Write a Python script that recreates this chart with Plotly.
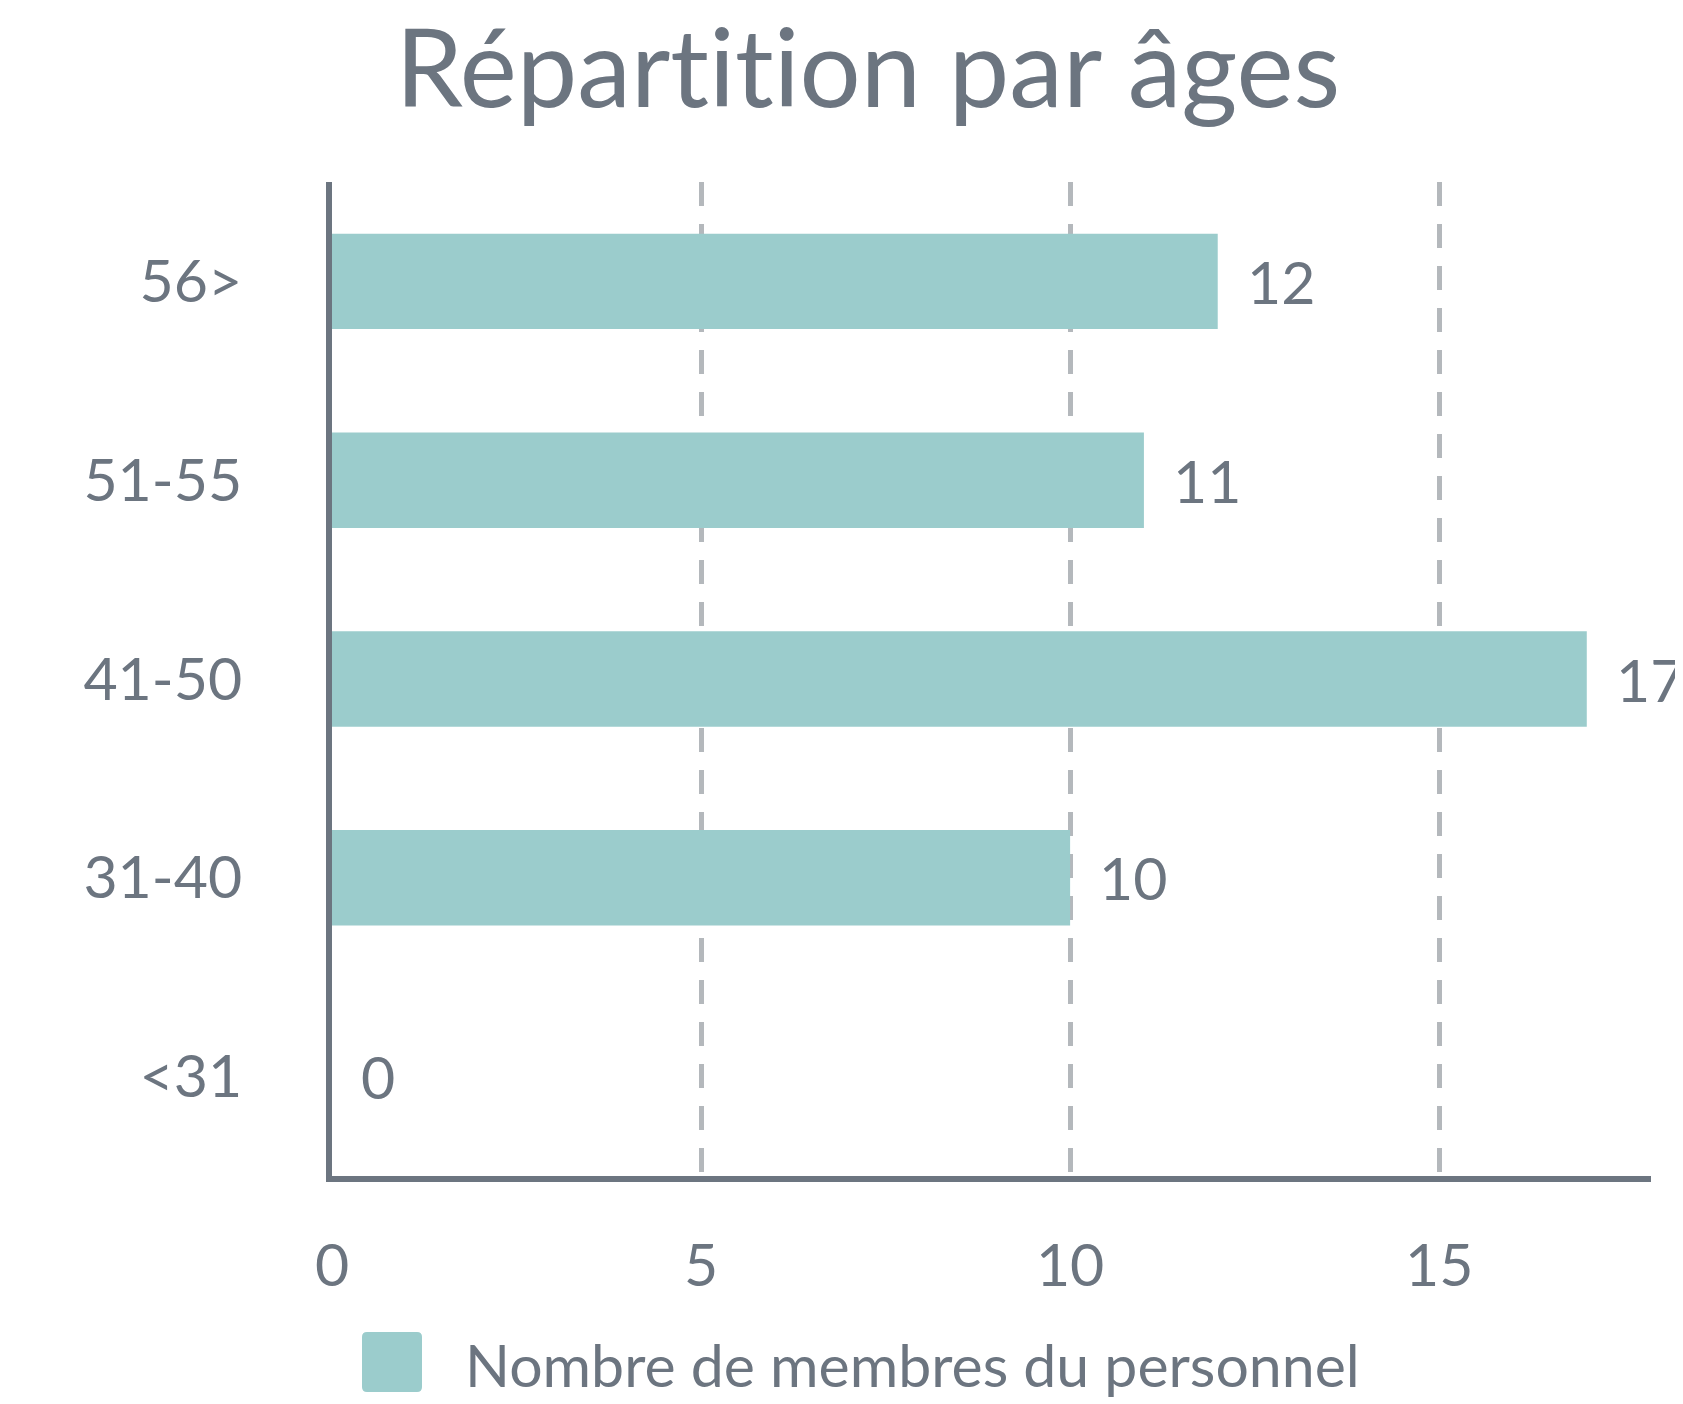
import plotly.graph_objects as go

categories = ["<31", "31-40", "41-50", "51-55", "56>"]
values = [0, 10, 17, 11, 12]
series_name = "Nombre de membres du personnel"
# zero-width non-joiners keep Lato from forming the "ti" ligature
title_text = "Répart\u200cit\u200cion par âges"
x_ticks = [0, 5, 10, 15]

TEXT = "#6c7580"
BAR = "#9bcccc"
GRID = "#b4b8bc"
FONT = "Lato, 'Open Sans', sans-serif"
FS = 59

W, H = 1683, 1404
OFF = 8  # page body margin
L, R, T, B = 332 - OFF, 32 + OFF, 182 - OFF, 228 + OFF

fig = go.Figure()
fig.add_trace(go.Bar(
    x=values, y=categories, orientation="h",
    marker=dict(color=BAR, line=dict(width=0)),
    name=series_name, showlegend=False, hoverinfo="x+y",
))

for v, c in zip(values, categories):
    fig.add_annotation(x=v, y=c, xref="x", yref="y", text=str(v),
                       showarrow=False, xanchor="left", yanchor="middle",
                       xshift=27, yshift=0,
                       font=dict(family=FONT, size=FS, color=TEXT))

# legend (manual, to match large swatch)
r = 5
x0, x1, y0, y1 = 30, 90, -156, -216
path = (f"M {x0+r},{y0} L {x1-r},{y0} Q {x1},{y0} {x1},{y0-r} "
        f"L {x1},{y1+r} Q {x1},{y1} {x1-r},{y1} L {x0+r},{y1} "
        f"Q {x0},{y1} {x0},{y1+r} L {x0},{y0-r} Q {x0},{y0} {x0+r},{y0} Z")
fig.add_shape(type="path", path=path, xref="paper", yref="paper",
              xsizemode="pixel", ysizemode="pixel", xanchor=0, yanchor=0,
              fillcolor=BAR, line=dict(width=0))
fig.add_annotation(x=0, y=0, xref="paper", yref="paper", text=series_name,
                   showarrow=False, xanchor="left", yanchor="middle",
                   xshift=131, yshift=-188,
                   font=dict(family=FONT, size=FS, color=TEXT))

fig.update_layout(
    width=W, height=H,
    margin=dict(l=L, r=R, t=T, b=B),
    paper_bgcolor="white", plot_bgcolor="white",
    font=dict(family=FONT, color=TEXT),
    title=dict(text=title_text, x=(868 - OFF) / W, xref="container", xanchor="center",
               y=1 - (69 - OFF) / H, yref="container", yanchor="middle",
               font=dict(family=FONT, size=108, color=TEXT)),
    bargap=0.52,
    xaxis=dict(range=[0, 17.87], tickvals=x_ticks, showgrid=True,
               gridcolor=GRID, gridwidth=5, griddash="24px,18px",
               zeroline=False, showline=True, linecolor=TEXT, linewidth=6,
               ticks="", ticklabelstandoff=33,
               tickfont=dict(family=FONT, size=FS, color=TEXT), fixedrange=True),
    yaxis=dict(categoryorder="array", categoryarray=categories,
               showgrid=False, zeroline=False, showline=True, linecolor=TEXT,
               linewidth=6, ticks="", ticklabelstandoff=72,
               tickfont=dict(family=FONT, size=FS, color=TEXT), fixedrange=True),
)

fig.write_html("out.html")
